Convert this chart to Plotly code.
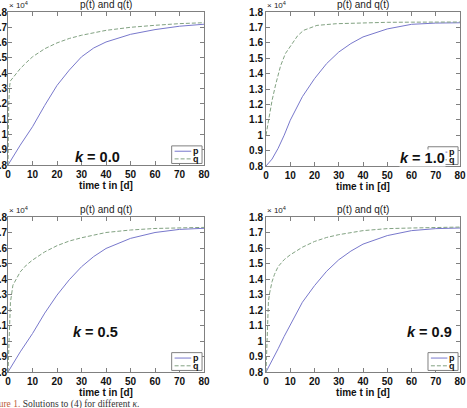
import plotly.graph_objects as go
from plotly.subplots import make_subplots

# ---------------- data (values in units of 10^4) ----------------
k_labels = ["0.0", "1.0", "0.5", "0.9"]

t_p_k00 = [0, 5, 10, 15, 20, 25, 30, 35, 40, 50, 60, 70, 80]
p_k00 = [0.80, 0.93, 1.05, 1.19, 1.32, 1.42, 1.507, 1.565, 1.604, 1.654, 1.685, 1.707, 1.72]
t_q_k00 = [0, 0.3, 0.7, 1, 2, 3, 5, 7.5, 10, 15, 20, 25, 30, 40, 50, 60, 70, 80]
q_k00 = [0.80, 1.20, 1.32, 1.35, 1.37, 1.39, 1.43, 1.47, 1.507, 1.56, 1.598, 1.627, 1.648, 1.68, 1.70, 1.713, 1.724, 1.73]

t_p_k10 = [0, 2.5, 5, 7.5, 10, 15, 20, 25, 30, 35, 40, 50, 60, 70, 80]
p_k10 = [0.80, 0.845, 0.915, 1.00, 1.097, 1.25, 1.367, 1.465, 1.54, 1.595, 1.638, 1.69, 1.72, 1.728, 1.73]
t_q_k10 = [0, 1, 2.5, 4, 6, 8, 10.7, 13, 15.5, 21, 29, 40, 50, 60, 70, 80]
q_k10 = [1.0, 1.09, 1.226, 1.33, 1.45, 1.53, 1.594, 1.645, 1.681, 1.713, 1.724, 1.73, 1.733, 1.734, 1.735, 1.735]

t_p_k05 = [0, 5, 10, 15, 20, 25, 30, 35, 40, 50, 60, 70, 80]
p_k05 = [0.80, 0.93, 1.048, 1.18, 1.296, 1.395, 1.479, 1.545, 1.597, 1.662, 1.70, 1.72, 1.727]
t_q_k05 = [0, 0.5, 1, 2, 3, 5, 7.5, 10, 15, 20, 25, 30, 40, 50, 60, 70, 80]
q_k05 = [0.80, 1.10, 1.25, 1.36, 1.39, 1.446, 1.49, 1.522, 1.575, 1.615, 1.645, 1.666, 1.70, 1.716, 1.726, 1.73, 1.733]

t_p_k09 = [0, 2.5, 5, 7.5, 10, 15, 20, 25, 30, 35, 40, 50, 60, 70, 80]
p_k09 = [0.80, 0.87, 0.95, 1.03, 1.10, 1.25, 1.357, 1.45, 1.524, 1.58, 1.625, 1.68, 1.712, 1.725, 1.729]
t_q_k09 = [0, 0.5, 1, 1.5, 2.5, 3.5, 5, 7.5, 10, 15, 20, 25, 30, 40, 50, 60, 70, 80]
q_k09 = [0.80, 1.05, 1.254, 1.31, 1.383, 1.43, 1.48, 1.525, 1.556, 1.605, 1.642, 1.668, 1.686, 1.712, 1.725, 1.729, 1.732, 1.735]

x_ticks = [0, 10, 20, 30, 40, 50, 60, 70, 80]
y_ticks = [0.8, 0.9, 1.0, 1.1, 1.2, 1.3, 1.4, 1.5, 1.6, 1.7, 1.8]
y_ticktext = ["0.8", "0.9", "1", "1.1", "1.2", "1.3", "1.4", "1.5", "1.6", "1.7", "1.8"]

panel_title = "p(t) and q(t)"
x_title = "time t in [d]"
caption_lead = "Figure 1."
caption_rest = " Solutions to (4) for different <i>κ</i>."

P_COLOR = "#7878cc"
Q_COLOR = "#82a282"
FRAME = "#808080"
FONT = "Liberation Sans, Arial, sans-serif"
DASH = "4px,2px"

panels = [
    (1, 1, t_p_k00, p_k00, t_q_k00, q_k00, k_labels[0]),
    (1, 2, t_p_k10, p_k10, t_q_k10, q_k10, k_labels[1]),
    (2, 1, t_p_k05, p_k05, t_q_k05, q_k05, k_labels[2]),
    (2, 2, t_p_k09, p_k09, t_q_k09, q_k09, k_labels[3]),
]

W, H = 467, 408
# pixel boxes of axes: (left, right, top, bottom)
boxes = {
    (1, 1): (8, 204, 12, 165),
    (1, 2): (266, 460, 12, 166),
    (2, 1): (8, 204, 217, 372),
    (2, 2): (266, 460, 217, 372),
}
k_pos = {
    (1, 1): (0.455, 0.055),
    (1, 2): (0.805, 0.055),
    (2, 1): (0.445, 0.26),
    (2, 2): (0.845, 0.26),
}

fig = make_subplots(rows=2, cols=2)

for idx, (r, c, tp, p, tq, q, klab) in enumerate(panels):
    fig.add_trace(go.Scatter(x=tp, y=p, mode="lines", name="p",
                             line=dict(color=P_COLOR, width=1), showlegend=False),
                  row=r, col=c)
    fig.add_trace(go.Scatter(x=tq, y=q, mode="lines", name="q",
                             line=dict(color=Q_COLOR, width=1, dash=DASH), showlegend=False),
                  row=r, col=c)

for idx, (r, c, tp, p, tq, q, klab) in enumerate(panels):
    n = idx + 1
    sfx = "" if n == 1 else str(n)
    L, R, T, B = boxes[(r, c)]
    xd = [L / W, R / W]
    yd = [1 - B / H, 1 - T / H]
    fig.update_xaxes(row=r, col=c, domain=xd, range=[0, 80], tickvals=x_ticks,
                     ticks="inside", ticklen=4, tickcolor=FRAME, showline=True,
                     linecolor=FRAME, linewidth=1, mirror="ticks", showgrid=False,
                     zeroline=False, automargin=False,
                     tickfont=dict(family=FONT, size=10, color="#111", weight="bold"),
                     title=dict(text=x_title, standoff=2,
                                font=dict(family=FONT, size=10, color="#111", weight="bold")))
    fig.update_yaxes(row=r, col=c, domain=yd, range=[0.8, 1.8], tickvals=y_ticks,
                     ticktext=y_ticktext, ticks="inside", ticklen=4, tickcolor=FRAME,
                     showline=True, linecolor=FRAME, linewidth=1, mirror="ticks",
                     showgrid=False, zeroline=False, automargin=False,
                     ticklabelstandoff=-2 if c == 1 else 0,
                     tickfont=dict(family=FONT, size=10, color="#111", weight="bold"))

    xr = "x" + sfx + " domain"
    yr = "y" + sfx + " domain"
    # panel title
    fig.add_annotation(xref=xr, yref=yr, x=0.5, y=1.0, yshift=0, xanchor="center",
                       yanchor="bottom", text=panel_title, showarrow=False,
                       font=dict(family=FONT, size=10, color="#222"))
    # x 10^4 factor
    fig.add_annotation(xref=xr, yref=yr, x=0.0, y=1.0, xshift=-1, xanchor="left",
                       yanchor="bottom", text="× 10<sup>4</sup>", showarrow=False,
                       font=dict(family=FONT, size=8, color="#222"))
    # legend box (drawn as a small boxed key, MATLAB style)
    fig.add_shape(type="rect", xref=xr, yref=yr, x0=0.835, x1=0.99, y0=0.01, y1=0.125,
                  line=dict(color=FRAME, width=1), fillcolor="white", layer="above")
    fig.add_shape(type="line", xref=xr, yref=yr, x0=0.85, x1=0.935, y0=0.09, y1=0.09,
                  line=dict(color=P_COLOR, width=1), layer="above")
    fig.add_shape(type="line", xref=xr, yref=yr, x0=0.85, x1=0.935, y0=0.04, y1=0.04,
                  line=dict(color=Q_COLOR, width=1, dash=DASH), layer="above")
    # k label (drawn before legend letters so the letters stay visible)
    kx, ky = k_pos[(r, c)]
    fig.add_annotation(xref=xr, yref=yr, x=kx, y=ky, xanchor="center", yanchor="middle",
                       text="<i>k</i> = " + klab, showarrow=False,
                       bgcolor="white" if (r, c) == (1, 2) else "rgba(0,0,0,0)",
                       borderpad=0,
                       font=dict(family=FONT, size=14.5, color="#111", weight="bold"))
    fig.add_annotation(xref=xr, yref=yr, x=0.94, y=0.09, xanchor="left", yanchor="middle",
                       text="p", showarrow=False, borderpad=0,
                       font=dict(family=FONT, size=9, color="#111", weight="bold"))
    fig.add_annotation(xref=xr, yref=yr, x=0.94, y=0.04, xanchor="left", yanchor="middle",
                       text="q", showarrow=False, borderpad=0,
                       font=dict(family=FONT, size=9, color="#111", weight="bold"))

# caption
fig.add_annotation(xref="paper", yref="paper", x=-16 / W, y=1 - 404 / H,
                   xanchor="left", yanchor="middle", showarrow=False,
                   text="<span style='color:#c0603a'>" + caption_lead + "</span>" + caption_rest,
                   font=dict(family="Liberation Serif, Times New Roman, serif", size=9.5, color="#333"))

fig.update_layout(width=W, height=H, autosize=False,
                  margin=dict(l=0, r=0, t=0, b=0, pad=0),
                  paper_bgcolor="white", plot_bgcolor="white",
                  showlegend=False, font=dict(family=FONT))

fig.write_html("out.html")
